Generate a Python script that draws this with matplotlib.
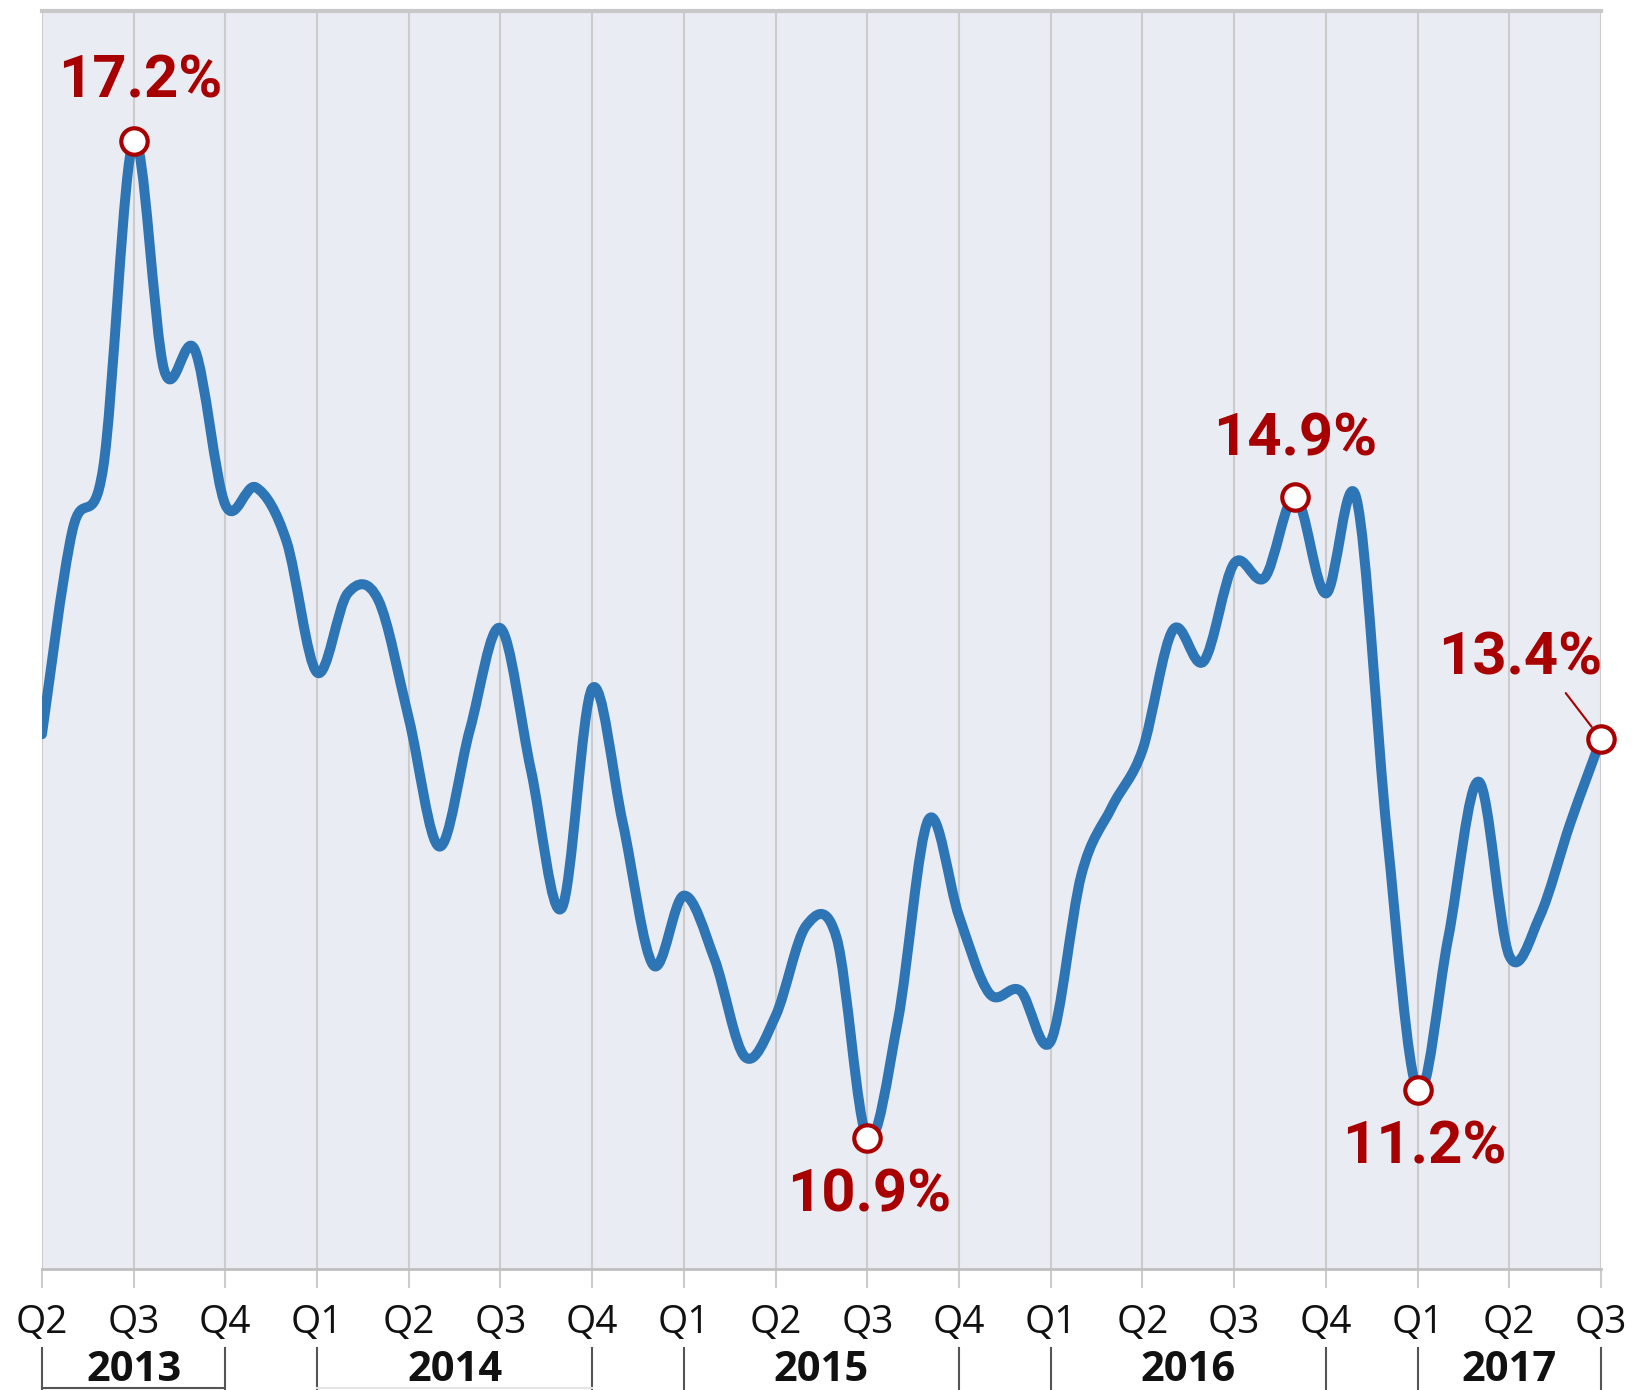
import matplotlib
matplotlib.use('Agg')
import matplotlib.pyplot as plt
from matplotlib.path import Path
from matplotlib.patches import PathPatch
from matplotlib import font_manager
import numpy as np

# monthly values, Apr 2013 .. Jul 2017 (one point per month)
rate = [13.45, 14.74, 15.13, 17.20, 15.75, 15.88, 14.90, 15.01, 14.67, 13.84,
        14.34, 14.30, 13.55, 12.74, 13.48, 14.12, 13.22, 12.35, 13.74, 12.89,
        11.99, 12.43, 12.03, 11.41, 11.67, 12.24, 12.16, 10.90, 11.64, 12.91,
        12.30, 11.81, 11.83, 11.51, 12.56, 12.99, 13.35, 14.11, 13.91, 14.53,
        14.44, 14.95, 14.34, 14.94, 12.82, 11.20, 12.16, 13.15, 12.05, 12.30,
        12.89, 13.42]
months = np.arange(len(rate))

quarters = ['Q2', 'Q3', 'Q4',
            'Q1', 'Q2', 'Q3', 'Q4',
            'Q1', 'Q2', 'Q3', 'Q4',
            'Q1', 'Q2', 'Q3', 'Q4',
            'Q1', 'Q2', 'Q3']
years = ['2013', '2014', '2015', '2016', '2017']
year_first_q = [0, 3, 7, 11, 15]
year_last_q = [2, 6, 10, 14, 17]

callout_idx = [3, 27, 41, 45, 51]
callout_txt = ['17.2%', '10.9%', '14.9%', '11.2%', '13.4%']

BLUE = '#2e75b6'
RED = '#a80000'
GRID = '#cccccc'

names = {f.name for f in font_manager.fontManager.ttflist}
if 'Liberation Sans Narrow' in names:
    label_font, label_size = 'Liberation Sans Narrow', 48
else:
    label_font, label_size = 'Roboto', 43


def smooth_path(x, y):
    # catmull-rom style bezier through every point (like excel "smoothed line")
    x = np.asarray(x, float)
    y = np.asarray(y, float)
    xp = np.r_[x[0], x, x[-1]]
    yp = np.r_[y[0], y, y[-1]]
    verts = [(x[0], y[0])]
    codes = [Path.MOVETO]
    for i in range(len(x) - 1):
        j = i + 1
        c1 = (xp[j] + (xp[j + 1] - xp[j - 1]) / 6, yp[j] + (yp[j + 1] - yp[j - 1]) / 6)
        c2 = (xp[j + 1] - (xp[j + 2] - xp[j]) / 6, yp[j + 1] - (yp[j + 2] - yp[j]) / 6)
        verts += [c1, c2, (x[i + 1], y[i + 1])]
        codes += [Path.CURVE4] * 3
    return Path(verts, codes)


fig = plt.figure(figsize=(16.32, 13.9), dpi=100)
ax = fig.add_axes([0.0257, 0.087, 0.981 - 0.0257, 0.992 - 0.087])
ax.set_facecolor('#e9ecf2')
ax.set_xlim(0, months[-1])
ax.set_ylim(10.07, 18.02)

qticks = months[::3]
ax.set_xticks(qticks)
ax.set_xticklabels(quarters, fontsize=28, family='Open Sans', color='#111111')
ax.tick_params(axis='x', length=14, width=1.5, color=GRID, pad=11)
ax.set_yticks([])
ax.grid(axis='x', color=GRID, lw=1.5)
ax.set_axisbelow(True)
for s in ['left', 'right']:
    ax.spines[s].set_visible(False)
ax.spines['top'].set_color('#c8c8c8')
ax.spines['top'].set_linewidth(3)
ax.spines['bottom'].set_color('#bfbfbf')
ax.spines['bottom'].set_linewidth(2)

ax.add_patch(PathPatch(smooth_path(months, rate), fill=False, edgecolor=BLUE,
                       lw=7.2, capstyle='round', joinstyle='round', zorder=3))

# year row with brackets under the quarter labels
trans = ax.get_xaxis_transform()
for i, yr in enumerate(years):
    a = qticks[year_first_q[i]]
    b = qticks[year_last_q[i]]
    ax.text((a + b) / 2, -0.0891, yr, transform=trans, ha='center', va='baseline',
            fontsize=30, fontweight='bold', family='Open Sans', color='#111111')
    for xb in (a, b):
        ax.plot([xb, xb], [-0.0628, -0.1], transform=trans, color='#555555',
                lw=1.5, clip_on=False)
ax.plot([qticks[0], qticks[2]], [-0.0946, -0.0946], transform=trans,
        color='#555555', lw=1.5, clip_on=False)
ax.plot([qticks[3], qticks[6]], [-0.0946, -0.0946], transform=trans,
        color='#e4e4e4', lw=1.5, clip_on=False)

offsets = [(7, 59), (2, -58), (0, 57), (7, -57), (-81, 80)]
for k, txt, off in zip(callout_idx, callout_txt, offsets):
    ax.plot(months[k], rate[k], 'o', ms=19, mfc='white', mec=RED, mew=3,
            zorder=5, clip_on=False)
    if k == callout_idx[-1]:
        ax.annotate(txt, (months[k], rate[k]), xytext=off, textcoords='offset pixels',
                    ha='center', va='center', fontsize=label_size, fontweight='bold',
                    family=label_font, color=RED,
                    arrowprops=dict(arrowstyle='-', color=RED, lw=1.5,
                                    relpos=(0.75, 0.0), shrinkA=3, shrinkB=11))
    else:
        ax.annotate(txt, (months[k], rate[k]), xytext=off, textcoords='offset pixels',
                    ha='center', va='center', fontsize=label_size, fontweight='bold',
                    family=label_font, color=RED)

fig.savefig('out.png', dpi=100, facecolor='white')
